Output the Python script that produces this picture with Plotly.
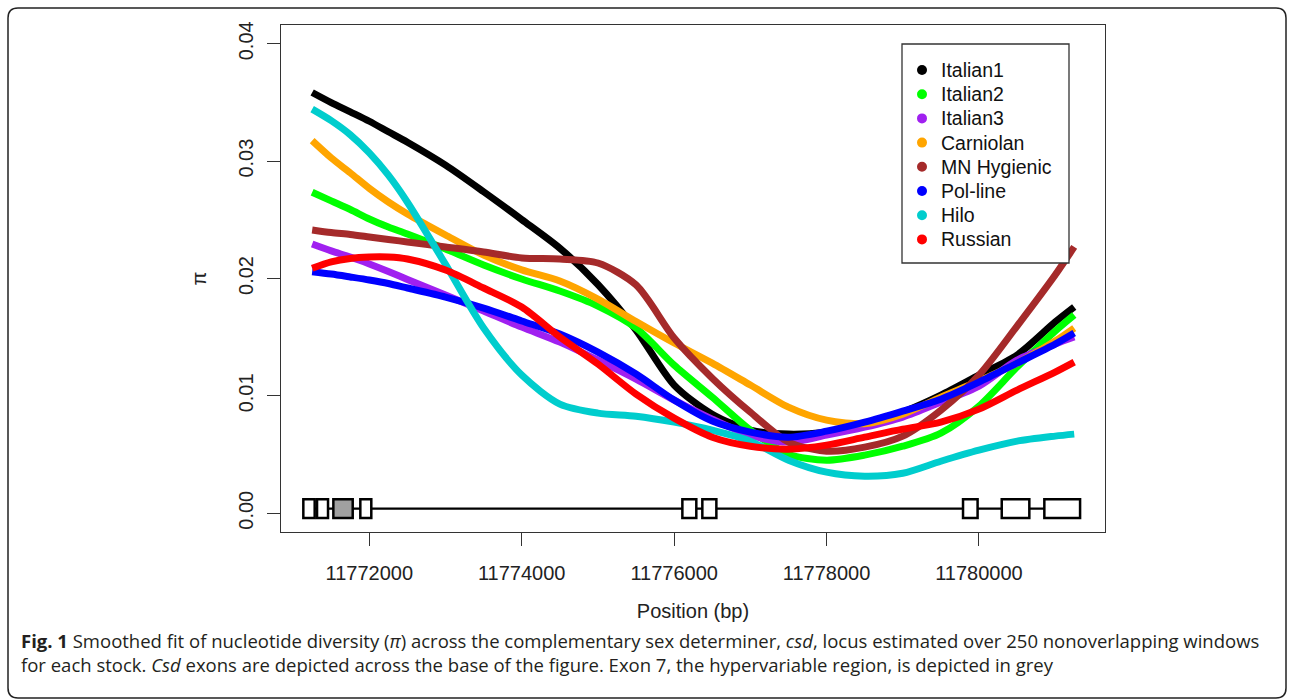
import plotly.graph_objects as go

# ---------------- data ----------------
positions = [11771250, 11771500, 11771750, 11772000, 11772250, 11772500, 11773000,
             11773500, 11774000, 11774500, 11775000, 11775500, 11776000, 11776500,
             11777000, 11777500, 11778000, 11778500, 11779000, 11779500, 11780000,
             11780500, 11781000, 11781250]

stocks = ["Italian1", "Italian2", "Italian3", "Carniolan", "MN Hygienic", "Pol-line", "Hilo", "Russian"]
colors = ["#000000", "#00FF00", "#A020F0", "#FFA500", "#A52A2A", "#0000FF", "#00CDCD", "#FF0000"]

italian1 = [0.03585, 0.03499, 0.03420, 0.03340, 0.03250, 0.03161, 0.02966, 0.02739, 0.02502,
            0.02258, 0.01949, 0.01561, 0.01092, 0.00844, 0.00708, 0.00674, 0.00691, 0.00750,
            0.00861, 0.01006, 0.01177, 0.01348, 0.01629, 0.01757]
italian2 = [0.02735, 0.02661, 0.02588, 0.02507, 0.02439, 0.02379, 0.02252, 0.02115, 0.01996,
            0.01893, 0.01765, 0.01578, 0.01262, 0.00989, 0.00708, 0.00503, 0.00452, 0.00495,
            0.00571, 0.00682, 0.00913, 0.01245, 0.01552, 0.01689]
italian3 = [0.02294, 0.02235, 0.02183, 0.02124, 0.02060, 0.01992, 0.01859, 0.01723, 0.01586,
            0.01458, 0.01305, 0.01143, 0.00964, 0.00802, 0.00665, 0.00606, 0.00665, 0.00733,
            0.00819, 0.00947, 0.01083, 0.01305, 0.01441, 0.01501]
carniolan = [0.03175, 0.03028, 0.02900, 0.02768, 0.02652, 0.02550, 0.02371, 0.02200, 0.02073,
             0.01979, 0.01825, 0.01633, 0.01450, 0.01279, 0.01092, 0.00904, 0.00793, 0.00763,
             0.00844, 0.00989, 0.01126, 0.01279, 0.01467, 0.01578]
mn_hygienic = [0.02414, 0.02392, 0.02375, 0.02354, 0.02333, 0.02311, 0.02269, 0.02226, 0.02175,
               0.02166, 0.02132, 0.01945, 0.01493, 0.01151, 0.00861, 0.00606, 0.00529, 0.00563,
               0.00657, 0.00878, 0.01177, 0.01595, 0.02030, 0.02269]
pol_line = [0.02058, 0.02038, 0.02013, 0.01987, 0.01957, 0.01919, 0.01842, 0.01748, 0.01638,
            0.01527, 0.01373, 0.01186, 0.00964, 0.00785, 0.00691, 0.00648, 0.00699, 0.00776,
            0.00870, 0.00972, 0.01117, 0.01279, 0.01441, 0.01535]
hilo = [0.03443, 0.03345, 0.03225, 0.03070, 0.02880, 0.02650, 0.02120, 0.01578, 0.01177,
        0.00930, 0.00853, 0.00827, 0.00776, 0.00708, 0.00614, 0.00452, 0.00350, 0.00316,
        0.00341, 0.00443, 0.00537, 0.00614, 0.00657, 0.00674]
russian = [0.02087, 0.02141, 0.02171, 0.02183, 0.02183, 0.02166, 0.02072, 0.01919, 0.01757,
           0.01501, 0.01271, 0.01015, 0.00810, 0.00648, 0.00571, 0.00546, 0.00580, 0.00648,
           0.00716, 0.00776, 0.00887, 0.01049, 0.01203, 0.01288]

series = [italian1, italian2, italian3, carniolan, mn_hygienic, pol_line, hilo, russian]

# csd exons (bp)
exon_starts = [11771134, 11771314, 11771528, 11771882, 11776108, 11776370, 11779791, 11780299, 11780858]
exon_ends = [11771283, 11771458, 11771782, 11772026, 11776291, 11776554, 11779982, 11780661, 11781327]
exon_fill = ["white", "white", "#A0A0A0", "white", "white", "white", "white", "white", "white"]
exon_bottom, exon_top, intron_y = -0.0004, 0.0012, 0.0004

x_tickvals = [11772000, 11774000, 11776000, 11778000, 11780000]
x_ticktext = ["11772000", "11774000", "11776000", "11778000", "11780000"]
y_tickvals = [0.00, 0.01, 0.02, 0.03, 0.04]
y_ticktext = ["0.00", "0.01", "0.02", "0.03", "0.04"]

caption = ("<b>Fig. 1</b> Smoothed fit of nucleotide diversity (<i>π</i>) across the complementary sex "
           "determiner, <i>csd</i>, locus estimated over 250 nonoverlapping windows<br>"
           "for each stock. <i>Csd</i> exons are depicted across the base of the figure. "
           "Exon 7, the hypervariable region, is depicted in grey")

# ---------------- layout geometry ----------------
W, H = 1290, 700
L, R, T, B = 281, 1105, 25, 532


def px_x(px):
    return (px - L) / (R - L)


def px_y(py):
    return (B - py) / (B - T)


fig = go.Figure()
for name, col, vals in zip(stocks, colors, series):
    fig.add_trace(go.Scatter(x=positions, y=vals, mode="lines", name=name,
                             line=dict(color=col, width=7, shape="spline", smoothing=0.8),
                             showlegend=False))

shapes = []
# intron line
shapes.append(dict(type="line", xref="x", yref="y", x0=exon_starts[0], x1=exon_ends[-1],
                   y0=intron_y, y1=intron_y, line=dict(color="black", width=2.2)))
for s, e, f in zip(exon_starts, exon_ends, exon_fill):
    shapes.append(dict(type="rect", xref="x", yref="y", x0=s, x1=e, y0=exon_bottom, y1=exon_top,
                       fillcolor=f, line=dict(color="black", width=2.5)))

# legend box
shapes.append(dict(type="rect", xref="paper", yref="paper", x0=px_x(902), x1=px_x(1069),
                   y0=px_y(263), y1=px_y(44), fillcolor="white", line=dict(color="#333", width=1.3)))
annotations = []
for i, (name, col) in enumerate(zip(stocks, colors)):
    yy = px_y(70 + i * 24.2)
    shapes.append(dict(type="circle", xref="paper", yref="paper", xsizemode="pixel", ysizemode="pixel",
                       xanchor=px_x(922), yanchor=yy, x0=-5, x1=5, y0=-5, y1=5,
                       fillcolor=col, line=dict(color=col, width=0)))
    annotations.append(dict(xref="paper", yref="paper", x=px_x(939), y=yy, xanchor="left", yanchor="middle",
                            text=name, showarrow=False,
                            font=dict(family="Liberation Sans, Arial", size=19.5, color="#111")))

# outer rounded frame
fl, fr, ft, fb, rad = 8, 1286, 8, 698, 10
frame_path = (f"M {px_x(fl + rad)},{px_y(ft)} L {px_x(fr - rad)},{px_y(ft)} "
              f"Q {px_x(fr)},{px_y(ft)} {px_x(fr)},{px_y(ft + rad)} "
              f"L {px_x(fr)},{px_y(fb - rad)} Q {px_x(fr)},{px_y(fb)} {px_x(fr - rad)},{px_y(fb)} "
              f"L {px_x(fl + rad)},{px_y(fb)} Q {px_x(fl)},{px_y(fb)} {px_x(fl)},{px_y(fb - rad)} "
              f"L {px_x(fl)},{px_y(ft + rad)} Q {px_x(fl)},{px_y(ft)} {px_x(fl + rad)},{px_y(ft)} Z")
shapes.append(dict(type="path", xref="paper", yref="paper", path=frame_path,
                   line=dict(color="#222", width=1.5)))

annotations.append(dict(xref="paper", yref="paper", x=px_x(19), y=px_y(626),
                        xanchor="left", yanchor="top", align="left", text=caption,
                        showarrow=False,
                        font=dict(family="Open Sans", size=18.5, color="#231f20")))

axis_font = dict(family="Liberation Sans, Arial", size=20, color="#222")
fig.update_layout(
    width=W, height=H,
    margin=dict(l=L, r=W - R, t=T, b=H - B, autoexpand=False),
    paper_bgcolor="white", plot_bgcolor="white",
    shapes=shapes, annotations=annotations,
    xaxis=dict(range=[11770841, 11781654], tickvals=x_tickvals, ticktext=x_ticktext,
               showgrid=False, zeroline=False, showline=True, mirror=True, linecolor="#333", linewidth=1.3,
               ticks="outside", ticklen=13, tickwidth=1.3, tickcolor="#333", tickfont=axis_font,
               ticklabelstandoff=10,
               title=dict(text="Position (bp)", font=axis_font, standoff=20)),
    yaxis=dict(range=[-0.0016, 0.0416], tickvals=y_tickvals, ticktext=y_ticktext, tickangle=-90,
               showgrid=False, zeroline=False, showline=True, mirror=True, linecolor="#333", linewidth=1.3,
               ticks="outside", ticklen=13, tickwidth=1.3, tickcolor="#333", tickfont=axis_font,
               ticklabelstandoff=6,
               title=dict(text="π", font=axis_font, standoff=22)),
)

fig.write_html("out.html")
